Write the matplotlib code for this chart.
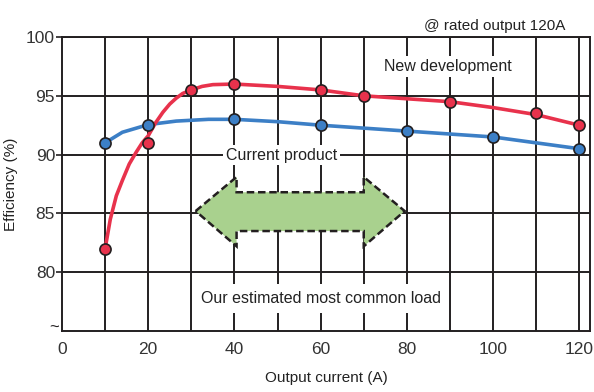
import matplotlib
matplotlib.use("Agg")
import matplotlib.pyplot as plt
from matplotlib.patches import Polygon

# Values
x_ticks = [0, 20, 40, 60, 80, 100, 120]
y_ticks = [80, 85, 90, 95, 100]

# Current product (blue)
cur_x = [10, 20, 40, 60, 80, 100, 120]
cur_y = [91.0, 92.5, 93.0, 92.5, 92.0, 91.5, 90.5]
cur_line_x = [10, 14, 20, 26.5, 34, 40, 50, 60, 70, 80, 90, 100, 110, 120]
cur_line_y = [91.0, 91.9, 92.55, 92.85, 93.0, 93.0, 92.8, 92.5, 92.25, 92.0, 91.75, 91.5, 91.0, 90.5]

# New development (red)
new_x = [10, 20, 30, 40, 60, 70, 90, 110, 120]
new_y = [82.0, 91.0, 95.5, 96.0, 95.5, 95.0, 94.5, 93.5, 92.5]
new_line_x = [10, 11.2, 12.6, 14, 15.6, 17.2, 18.6, 20, 21.7, 23.4, 25, 26.5, 28, 30, 32.5, 35, 40,
              50, 60, 70, 80, 90, 100, 110, 120]
new_line_y = [82.0, 84.5, 86.5, 87.8, 89.2, 90.2, 91.0, 91.6, 92.7, 93.6, 94.3, 94.8, 95.2, 95.5,
              95.8, 95.95, 96.0, 95.8, 95.5, 95.0, 94.75, 94.5, 94.0, 93.4, 92.5]

# Double arrow outline (most common load range)
arrow_x = [31, 40.5, 40.5, 70, 70, 79.5, 70, 70, 40.5, 40.5]
arrow_y = [85.2, 88.1, 86.8, 86.8, 88.1, 85.2, 82.2, 83.5, 83.5, 82.2]

RED = "#e8324c"
BLUE = "#3c7fc6"
GREEN = "#a9d18e"
DARK = "#231f20"

plt.rcParams["font.family"] = ["Liberation Sans", "DejaVu Sans"]

fig = plt.figure(figsize=(5.94, 3.92), dpi=100)
ax = fig.add_axes([0.1044, 0.1556, 0.8889, 0.75])

ax.set_xlim(0, 122.5)
ax.set_ylim(75, 100)

# grid
for gx in range(10, 130, 10):
    ax.axvline(gx, color=DARK, lw=1.4, zorder=1)
for gy in y_ticks:
    ax.axhline(gy, color=DARK, lw=1.4, zorder=1)

for s in ax.spines.values():
    s.set_color(DARK)
    s.set_linewidth(1.4)

ax.set_xticks(x_ticks)
ax.set_yticks(y_ticks)
ax.tick_params(axis="x", length=0, labelsize=12.5, pad=8, colors="#333333")
ax.tick_params(axis="y", length=4, width=1.2, labelsize=12.5, pad=1, colors="#333333")
ax.tick_params(axis="y", color=DARK)

ax.set_xlabel("Output current (A)", fontsize=11, labelpad=10, color="#222222")
ax.set_ylabel("Efficiency (%)", fontsize=11, labelpad=6, color="#222222")

# arrow
ax.add_patch(Polygon(list(zip(arrow_x, arrow_y)), closed=True, facecolor=GREEN,
                     edgecolor=DARK, lw=1.8, ls=(0, (3, 1.5)), zorder=3))

# curves
ax.plot(cur_line_x, cur_line_y, color=BLUE, lw=2.6, zorder=4, solid_capstyle="round")
ax.plot(new_line_x, new_line_y, color=RED, lw=2.6, zorder=5, solid_capstyle="round")
ax.plot(cur_x, cur_y, "o", ms=8, mfc=BLUE, mec=DARK, mew=1.2, zorder=6, clip_on=False)
ax.plot(new_x, new_y, "o", ms=8, mfc=RED, mec=DARK, mew=1.2, zorder=7, clip_on=False)

box = dict(facecolor="white", edgecolor="none", pad=2)
ax.text(89.5, 97.5, "New development", fontsize=11.5, ha="center", va="center",
        color="#222222", bbox=box, zorder=8)
ax.text(51, 89.95, "Current product", fontsize=11.5, ha="center", va="center",
        color="#222222", bbox=box, zorder=8)
ax.text(60, 77.75, "Our estimated most common load", fontsize=11.5, ha="center",
        va="center", color="#222222", bbox=dict(facecolor="white", edgecolor="none", pad=5),
        zorder=8)
ax.text(0.82, 1.015, "@ rated output 120A", transform=ax.transAxes, fontsize=11,
        ha="center", va="bottom", color="#222222")
ax.text(-0.6, 75.2, "~", fontsize=12, ha="right", va="center", color=DARK)

fig.savefig("out.png", dpi=100)
